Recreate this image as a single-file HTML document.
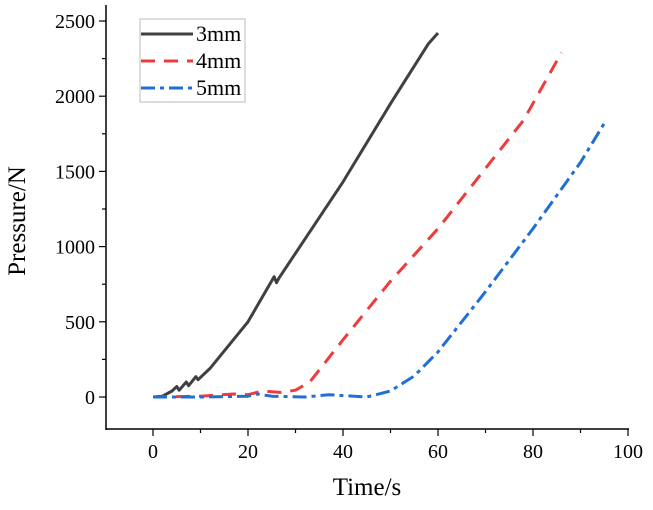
<!DOCTYPE html>
<html><head><meta charset="utf-8"><style>
body{margin:0;background:#fff;}
text{font-family:"Liberation Serif",serif;fill:#000;}
</style></head><body>
<svg id="c" width="653" height="505" xmlns="http://www.w3.org/2000/svg"></svg>
<script>
const xTicks=[0,20,40,60,80,100];
const yTicks=[0,500,1000,1500,2000,2500];
const t3=[0,2,4,5,5.5,7,7.5,9,9.5,12,20,25.5,26,26.5,40,50,58,60];
const p3=[0,5,40,70,45,100,75,135,115,190,500,800,760,790,1430,1950,2350,2420];
const t4=[0,10,17,20,23,27,30,33,40,50,60,70,78,86];
const p4=[0,5,20,15,40,30,45,100,380,770,1120,1520,1840,2290];
const t5=[0,10,20,22,25,32,37,45,50,55,60,70,80,90,95];
const p5=[0,0,5,20,5,0,15,0,40,140,300,700,1120,1560,1820];
const NS="http://www.w3.org/2000/svg";
const svg=document.getElementById('c');
const X=v=>153+v*4.75;
const Y=v=>397-v*0.1504;
function el(tag,attrs,parent){const e=document.createElementNS(NS,tag);for(const k in attrs)e.setAttribute(k,attrs[k]);(parent||svg).appendChild(e);return e;}
const axes=el('g',{});


el('line',{x1:106,y1:5,x2:106,y2:430,stroke:'#000','stroke-width':1.5},axes);
el('line',{x1:106,y1:429,x2:629,y2:429,stroke:'#000','stroke-width':1.5},axes);
for(let v=-10;v<=100;v+=10){const x=X(v);if(x<107)continue;el('line',{x1:x,y1:429,x2:x,y2:v%20===0?436:433,stroke:'#000','stroke-width':1.2},axes);}
for(let v=-250;v<=2750;v+=250){const y=Y(v);if(y<5||y>429)continue;el('line',{x1:106,y1:y,x2:v%500===0?99:102,y2:y,stroke:'#000','stroke-width':1.2},axes);}
xTicks.forEach(v=>{const t=el('text',{x:X(v),y:458,'text-anchor':'middle','font-size':20});t.textContent=v;

});
yTicks.forEach(v=>{const t=el('text',{x:95,y:Y(v)+7,'text-anchor':'end','font-size':20});t.textContent=v;

});
const xt=el('text',{x:367,y:495,'text-anchor':'middle','font-size':25});xt.textContent='Time/s';


const yt=el('text',{x:0,y:0,'text-anchor':'middle','font-size':25,transform:'translate(25,221) rotate(-90)'});yt.textContent='Pressure/N';


function series(ts,ps,color,dash,name){const d=ts.map((t,i)=>(i?'L':'M')+X(t).toFixed(1)+','+Y(ps[i]).toFixed(1)).join('');
const p=el('path',{d:d,fill:'none',stroke:color,'stroke-width':3,'stroke-dasharray':dash,'stroke-linejoin':'round'});

}
series(t3,p3,'#404040','','series-3mm');
series(t4,p4,'#ee3b3b','14 9','series-4mm');
series(t5,p5,'#1f6fd6','14 5 4 5','series-5mm');
const lg=el('g',{});


el('rect',{x:140,y:19,width:105,height:83,fill:'#fff',stroke:'#bbb','stroke-width':1},lg);
[['3mm','#404040',''],['4mm','#ee3b3b','14 9'],['5mm','#1f6fd6','14 5 4 5']].forEach((e,i)=>{const y=34+i*27;
el('line',{x1:141,y1:y,x2:193,y2:y,stroke:e[1],'stroke-width':3,'stroke-dasharray':e[2]},lg);
const t=el('text',{x:196,y:y+7,'font-size':22},lg);t.textContent=e[0];

});
</script>
</body></html>
